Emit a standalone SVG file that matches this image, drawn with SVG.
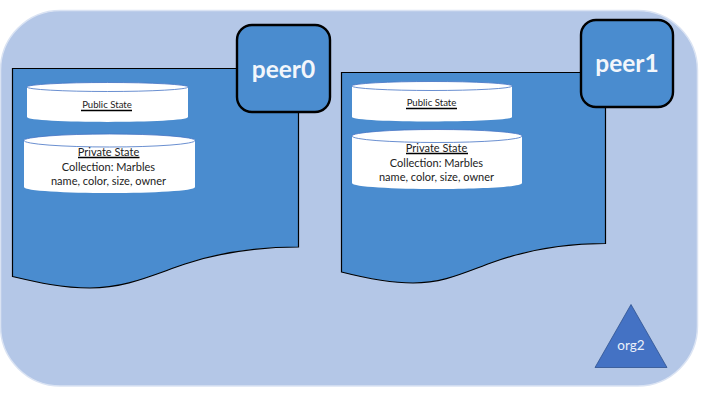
<svg xmlns="http://www.w3.org/2000/svg" width="720" height="405" viewBox="0 0 720 405">
<style>
text{font-family:Lato,"Liberation Sans",sans-serif;text-anchor:middle}
.doc{fill:#4a8ccf;stroke:#000;stroke-width:1.2}
.peer{fill:#4a8ccf;stroke:#000;stroke-width:2.4}
.cyl{fill:#fff;stroke:none}
.rim{fill:#fff;stroke:#4472c4;stroke-width:.8}
.pt{font-size:24.5px;font-weight:700;fill:#f2f6fb}
.s{font-size:9.6px;fill:#222}
.m{font-size:11px;fill:#222}
.u{stroke:#000;stroke-width:1.4}
</style>
<rect width="720" height="405" fill="#fff"/>
<g id="org-boundary"><rect x="0.5" y="10.500" width="697" height="375.500" rx="60" ry="60" fill="#b4c7e7" stroke="#dae3f3" stroke-width="1.500"/></g>
<g id="ledger0">
<path class="doc" d="M12.500 68.500H298.500V247C250 247 215 254 185 264C150 276 125 288 90 288C62 288 38 282.500 12.500 276.500Z"/>
<g id="public0"><path class="cyl" d="M27 86.500C27 84 188 84 188 86.500V117C188 123.500 27 123.500 27 117Z"/><ellipse class="rim" cx="107.500" cy="87" rx="80.500" ry="4.500"/>
<text class="s" x="107" y="108">Public State</text><line class="u" x1="81" y1="110.500" x2="132" y2="110.500"/></g>
<g id="private0"><path class="cyl" d="M24 140C24 136 195 136 195 140V187C195 195 24 195 24 187Z"/><ellipse class="rim" cx="109.500" cy="140.500" rx="85.500" ry="6.500"/>
<text class="m" x="108.500" y="156">Private State</text><line class="u" x1="78" y1="157.500" x2="139.500" y2="157.500"/>
<text class="m" x="108.500" y="171">Collection: Marbles</text><text class="m" x="108.500" y="185">name, color, size, owner</text></g>
</g>
<g id="peer0"><rect class="peer" x="237" y="25" width="93" height="87" rx="15"/><text class="pt" x="283.500" y="78">peer0</text></g>
<g id="ledger1">
<path class="doc" d="M341.500 72.500H605.500V243.500C560 243.500 525 251 495 261.500C465 272 445 283 413 283C392 283 365 278 341.500 272Z"/>
<g id="public1"><path class="cyl" d="M352 85.500C352 83 512 83 512 85.500V117C512 123 352 123 352 117Z"/><ellipse class="rim" cx="432" cy="86" rx="80" ry="4.500"/>
<text class="s" x="431.500" y="106">Public State</text><line class="u" x1="406" y1="108.500" x2="457" y2="108.500"/></g>
<g id="private1"><path class="cyl" d="M352 136C352 132 522 132 522 136V183C522 191 352 191 352 183Z"/><ellipse class="rim" cx="437" cy="136" rx="85" ry="6.500"/>
<text class="m" x="436.500" y="152">Private State</text><line class="u" x1="406" y1="153.500" x2="468" y2="153.500"/>
<text class="m" x="436.500" y="167">Collection: Marbles</text><text class="m" x="436.500" y="181">name, color, size, owner</text></g>
</g>
<g id="peer1"><rect class="peer" x="581" y="20" width="92" height="87" rx="15"/><text class="pt" x="627" y="72">peer1</text></g>
<g id="org2"><path d="M631 304.500L667 367.500H595Z" fill="#4472c4" stroke="#2f528f" stroke-width=".8"/><text x="631" y="350" font-size="13.500" fill="#eaf0fa">org2</text></g>
<g id="connectors"></g>
</svg>
